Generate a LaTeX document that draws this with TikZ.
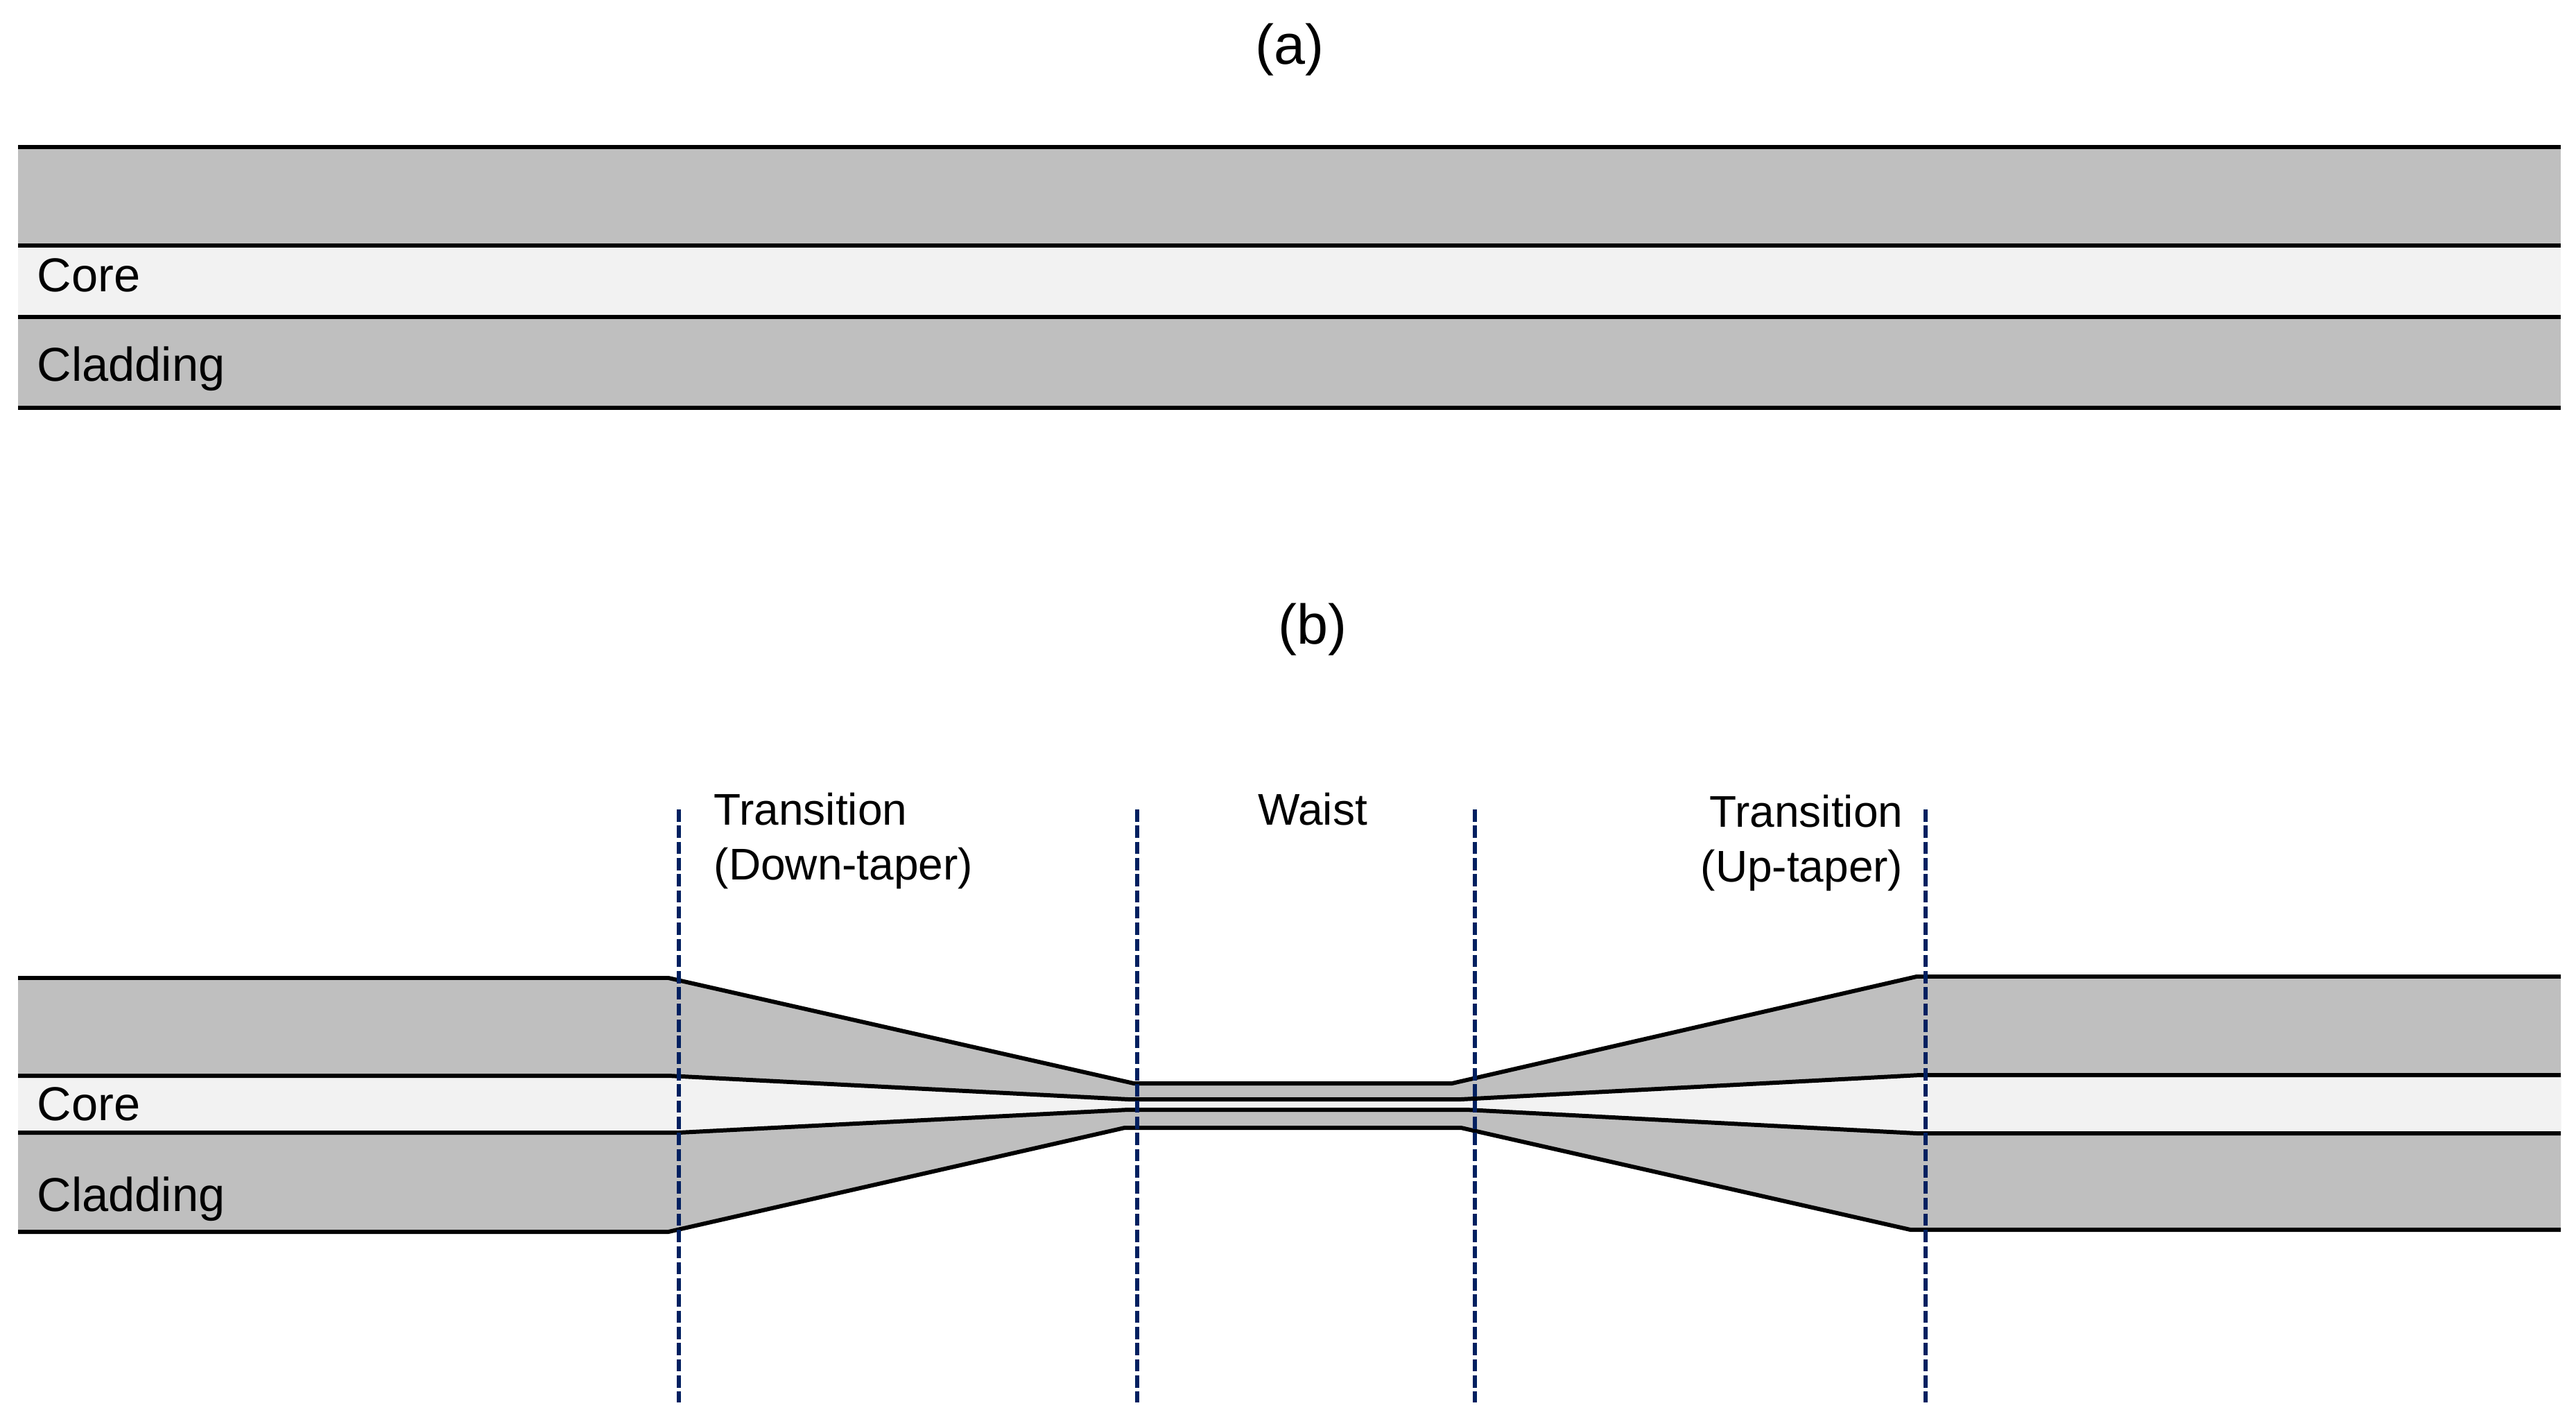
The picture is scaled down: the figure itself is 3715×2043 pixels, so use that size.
\documentclass[tikz,border=0pt]{standalone}
\usepackage{fontspec}
\setmainfont{Liberation Sans}
\definecolor{cladgray}{HTML}{BFBFBF}
\definecolor{coregray}{HTML}{F2F2F2}
\definecolor{guideblue}{HTML}{002060}
\tikzset{
  edgeline/.style={black,line width=1.7pt},
  guideline/.style={guideblue,line width=1.5pt,dash pattern=on 5pt off 1.63pt},
  lbl/.style={font=\fontsize{18.2}{22.2}\selectfont,inner sep=0pt,text=black},
  layerlbl/.style={font=\fontsize{19.5}{23}\selectfont,inner sep=0pt,text=black},
  caplbl/.style={font=\fontsize{23}{27}\selectfont,inner sep=0pt,text=black}
}

\begin{document}
\begin{tikzpicture}[x=0.01cm,y=-0.01cm]
\useasboundingbox (0,0) rectangle (3715,2043);
\coordinate (TL) at (26,1410);
\coordinate (TA) at (964,1410);
\coordinate (TB) at (1635,1562);
\coordinate (TC) at (2094,1562);
\coordinate (TD) at (2764,1408);
\coordinate (TR) at (3693,1408);
\coordinate (CL) at (26,1551);
\coordinate (CA) at (964,1551);
\coordinate (CB) at (1627,1585);
\coordinate (CC) at (2107,1585);
\coordinate (CD) at (2769,1550);
\coordinate (CR) at (3693,1550);
\coordinate (DL) at (26,1633);
\coordinate (DA) at (979,1633);
\coordinate (DB) at (1627,1600);
\coordinate (DC) at (2115,1600);
\coordinate (DD) at (2764,1634);
\coordinate (DR) at (3693,1634);
\coordinate (BL) at (26,1776);
\coordinate (BA) at (964,1776);
\coordinate (BB) at (1622,1626);
\coordinate (BC) at (2107,1626);
\coordinate (BD) at (2755,1773);
\coordinate (BR) at (3693,1773);
\fill[cladgray] (26,212) rectangle (3693,354);
\fill[coregray] (26,354) rectangle (3693,457);
\fill[cladgray] (26,457) rectangle (3693,587);
\draw[edgeline] (26,212) -- (3693,212);
\draw[edgeline] (26,354) -- (3693,354);
\draw[edgeline] (26,457) -- (3693,457);
\draw[edgeline] (26,588) -- (3693,588);
\fill[cladgray] (TL) -- (TA) -- (TB) -- (TC) -- (TD) -- (TR) -- (BR) -- (BD) -- (BC) -- (BB) -- (BA) -- (BL) -- cycle;
\fill[coregray] (CL) -- (CA) -- (CB) -- (CC) -- (CD) -- (CR) -- (DR) -- (DD) -- (DC) -- (DB) -- (DA) -- (DL) -- cycle;
\draw[edgeline] (TL) -- (TA) -- (TB) -- (TC) -- (TD) -- (TR);
\draw[edgeline] (CL) -- (CA) -- (CB) -- (CC) -- (CD) -- (CR);
\draw[edgeline] (DL) -- (DA) -- (DB) -- (DC) -- (DD) -- (DR);
\draw[edgeline] (BL) -- (BA) -- (BB) -- (BC) -- (BD) -- (BR);
\foreach \name/\xpos in {g1/979,g2/1640,g3/2127,g4/2777}{
  \coordinate (\name top) at (\xpos,1167);
  \coordinate (\name bot) at (\xpos,2022);
  \draw[guideline] (\name top) -- (\name bot);
}
\node[caplbl,anchor=base] (capa) at (1860,93) {(a)};
\node[caplbl,anchor=base] (capb) at (1893,928) {(b)};
\node[layerlbl,anchor=base west] (corea) at (53,421) {Core};
\node[layerlbl,anchor=base west] (cladding) at (53,550) {Cladding};
\node[layerlbl,anchor=base west] (coreb) at (53,1615) {Core};
\node[layerlbl,anchor=base west] (claddingb) at (53,1746) {Cladding};
\node[lbl,anchor=base west,align=left] (down) at (1029,1268) {Transition\\(Down-taper)};
\node[lbl,anchor=base] (waist) at (1893,1189) {Waist};
\node[lbl,anchor=base east,align=right] (up) at (2745,1271) {Transition\\(Up-taper)};
\end{tikzpicture}
\end{document}
